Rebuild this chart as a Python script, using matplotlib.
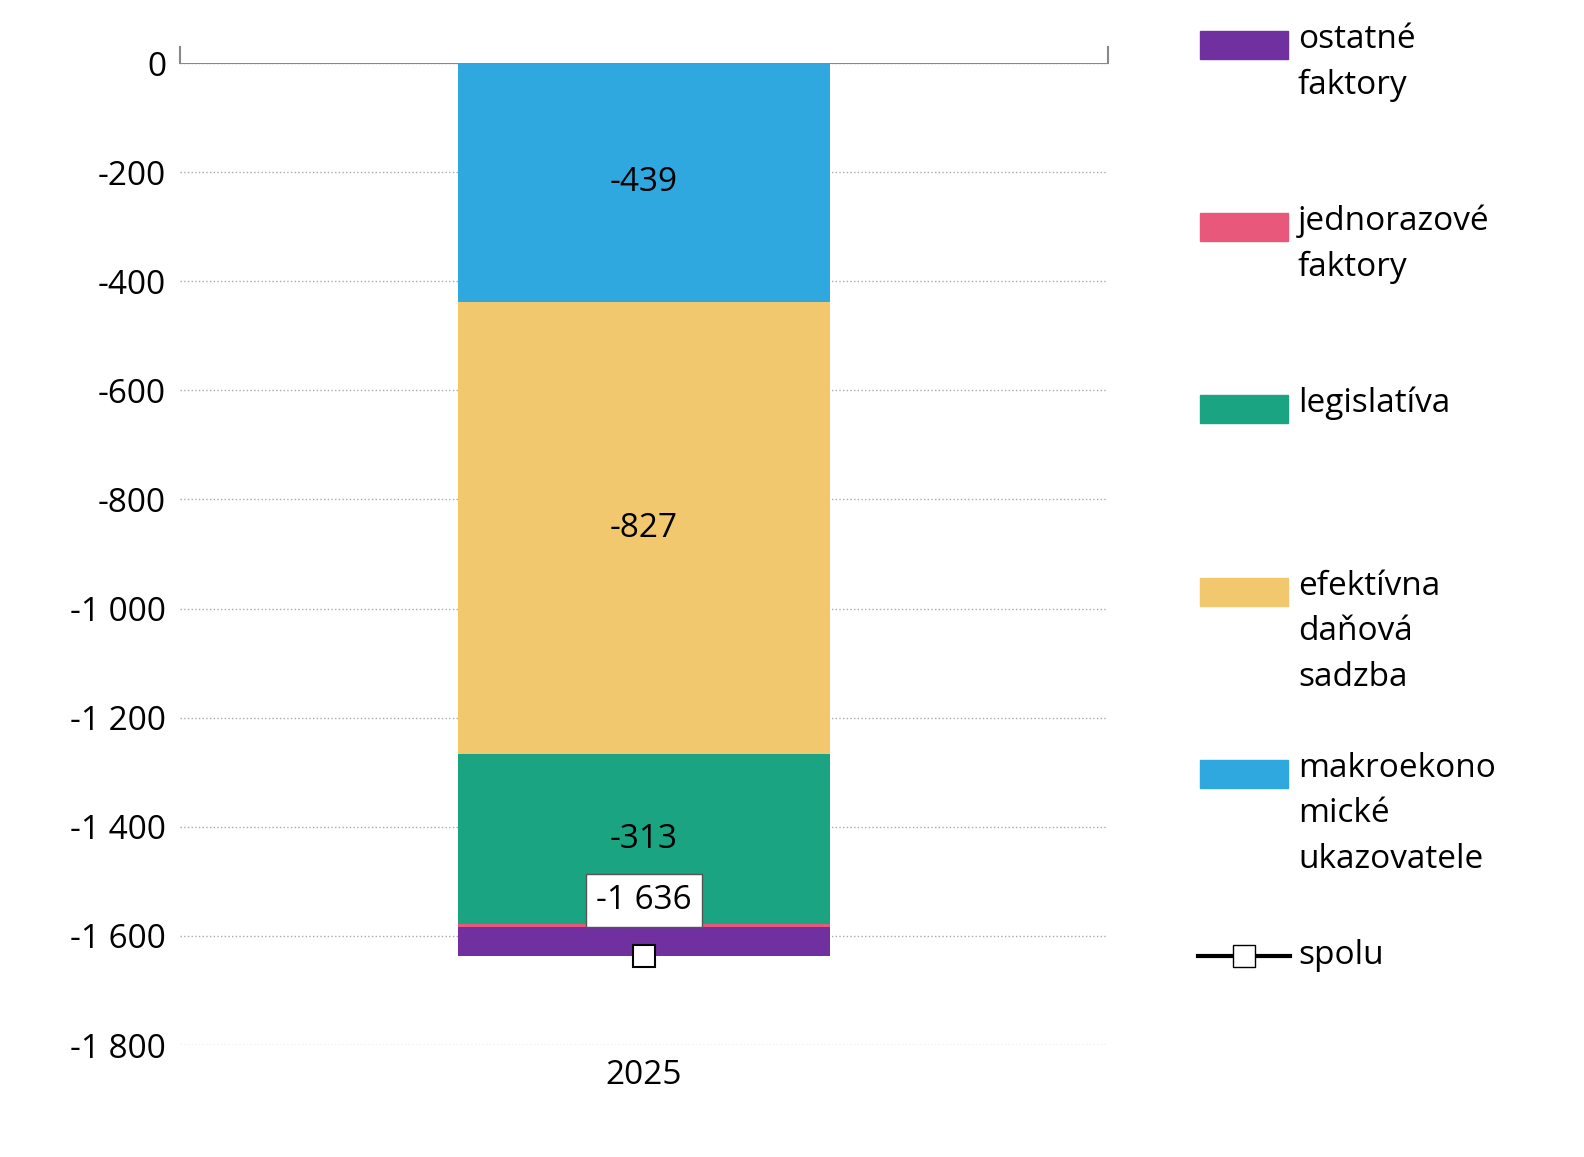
import matplotlib.pyplot as plt
from matplotlib.patches import Rectangle
from matplotlib.lines import Line2D

plt.rcParams['font.family'] = ['Open Sans', 'DejaVu Sans']

category = '2025'
series = ['makroekonomické ukazovatele', 'efektívna daňová sadzba', 'legislatíva',
          'jednorazové faktory', 'ostatné faktory']
values = [-439, -827, -313, -4, -53]
colors = ['#2FA8E0', '#F1C86E', '#1BA482', '#E8587A', '#7030A0']
show_label = [True, True, True, False, False]
total = -1636

legend_labels = ['ostatné\nfaktory', 'jednorazové\nfaktory', 'legislatíva',
                 'efektívna\ndaňová\nsadzba', 'makroekono\nmické\nukazovatele']
legend_colors = ['#7030A0', '#E8587A', '#1BA482', '#F1C86E', '#2FA8E0']
legend_y = [1112, 930, 748, 565, 383]  # pixel rows from bottom for each legend entry

fig = plt.figure(figsize=(15.84, 11.57), dpi=100)
ax = fig.add_axes([180 / 1584, 1 - 1045 / 1157, 928 / 1584, 982 / 1157])

bottom = 0
for name, v, c, lab in zip(series, values, colors, show_label):
    ax.bar(0, v, bottom=bottom, width=0.4, color=c, zorder=2)
    if lab:
        ax.text(0, bottom + v / 2, f'{v}', ha='center', va='center', fontsize=24, zorder=3)
    bottom += v

ax.plot([0], [total], marker='s', markersize=16, markerfacecolor='white',
        markeredgecolor='black', markeredgewidth=1.5, zorder=4)
ax.text(0, total + 100, '-1 636', ha='center', va='center', fontsize=24, zorder=5,
        bbox=dict(facecolor='white', edgecolor='#555555', boxstyle='square,pad=0.3'))

ax.set_xlim(-0.5, 0.5)
ax.set_ylim(-1800, 0)
yt = list(range(0, -1801, -200))
ax.set_yticks(yt)
ax.set_yticklabels([f'{t:,}'.replace(',', ' ') for t in yt], fontsize=24)
ax.set_xticks([0])
ax.set_xticklabels([category], fontsize=24)
ax.tick_params(length=0, pad=10)
ax.yaxis.grid(True, linestyle=':', color='#AAAAAA', linewidth=1, zorder=0)
for s in ['left', 'right', 'bottom', 'top']:
    ax.spines[s].set_visible(False)
ax.axhline(0, color='#888888', linewidth=1.5, zorder=3)
ax.plot([-0.5, -0.5], [0, 30], color='#888888', lw=1.5, clip_on=False)
ax.plot([0.5, 0.5], [0, 30], color='#888888', lw=1.5, clip_on=False)

H = 1157
for lab, c, y in zip(legend_labels, legend_colors, legend_y):
    fig.patches.append(Rectangle((1200 / 1584, (y - 14) / H), 88 / 1584, 28 / H,
                                 transform=fig.transFigure, color=c))
    fig.text(1298 / 1584, (y + 22) / H, lab, fontsize=24, va='top', linespacing=1.5)

yl = 201
fig.lines.append(Line2D([1198 / 1584, 1290 / 1584], [yl / H, yl / H], transform=fig.transFigure,
                        color='black', lw=3, marker=None))
fig.lines.append(Line2D([1244 / 1584], [yl / H], transform=fig.transFigure, marker='s',
                        markersize=16, markerfacecolor='white', markeredgecolor='black'))
fig.text(1298 / 1584, yl / H, 'spolu', fontsize=24, va='center')

fig.savefig('out.png', dpi=100)
